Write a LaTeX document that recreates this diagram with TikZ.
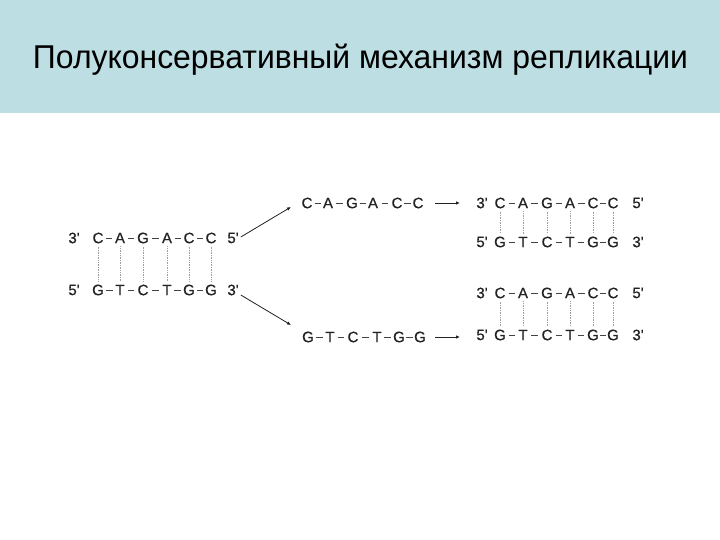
\documentclass[tikz,border=0pt]{standalone}
\usepackage{fontspec}
\setmainfont{Liberation Sans}
\newfontfamily\basefont[FakeBold=0.6]{Liberation Sans}
\usetikzlibrary{arrows.meta,calc}
\definecolor{band}{HTML}{BDDFE4}
\definecolor{ink}{HTML}{222222}
\tikzset{
  base/.style={font=\basefont\fontsize{15}{16}\selectfont, text=ink, inner sep=0pt},
  bond/.style={draw=ink!85, line width=0.9pt},
  hbond/.style={draw=gray!75, line width=0.7pt, densely dotted},
  splitarrow/.style={draw=ink, line width=0.8pt, -{Latex[length=4pt,width=3.5pt]}},
  fwdarrow/.style={draw=ink, line width=0.8pt, -{Latex[length=4pt,width=3.5pt]}},
}
% \strandrow{name}{y}{x/letter list}{xleft}{left label}{xright}{right label}
\newcommand{\strandrow}[7]{%
  \node[base] (#1e1) at (#4,#2) {#5};
  \node[base] (#1e2) at (#6,#2) {#7};
  \foreach \xx/\ll [count=\i] in {#3} {
    \node[base] (#1\i) at (\xx,#2) {\ll};
  }
  \foreach \i/\j in {1/2,2/3,3/4,4/5,5/6} {
    \draw[bond] ($($(#1\i.east)!0.5!(#1\j.west)$)+(-3.2,0)$) -- ($($(#1\i.east)!0.5!(#1\j.west)$)+(3.2,0)$);
  }
}
\newcommand{\hbonds}[2]{%
  \foreach \i in {1,...,6} {
    \draw[hbond] ($(#1\i.south)+(0,3)$) -- ($(#2\i.north)+(0,-3)$);
  }
}
\begin{document}
\begin{tikzpicture}[x=1pt,y=-1pt]
\useasboundingbox (0,0) rectangle (720,540);
\fill[white] (0,0) rectangle (720,540);
\fill[band] (0,0) rectangle (720,113);
\node[text=black, inner sep=0, anchor=base] (title) at (360.5,69)
  {\resizebox{655pt}{\height}{\fontsize{33}{36}\selectfont Полуконсервативный механизм репликации}};

% left duplex
\strandrow{LT}{238}{98/C,120/A,143/G,167/A,189/C,211/C}{74}{3'}{233}{5'}
\strandrow{LB}{290}{98/G,120/T,143/C,167/T,189/G,211/G}{74}{5'}{233}{3'}
\hbonds{LT}{LB}

% middle single strands
\strandrow{MT}{203}{307/C,328/A,352/G,373/A,397/C,418/C}{300}{}{425}{}
\strandrow{MB}{337}{308/G,330/T,353/C,377/T,399/G,420/G}{300}{}{425}{}
\coordinate (MTa) at (435,203);
\coordinate (MTb) at (460,203);
\coordinate (MBa) at (435,337);
\coordinate (MBb) at (460,337);
\draw[fwdarrow] (MTa) -- (MTb);
\draw[fwdarrow] (MBa) -- (MBb);

% split arrows
\coordinate (SAt) at (291,207);
\coordinate (SAb) at (291,325);
\draw[splitarrow] ($(LTe2.east)+(2,-1)$) -- (SAt);
\draw[splitarrow] ($(LBe2.east)+(2,5)$) -- (SAb);

% right top duplex
\strandrow{RA}{203}{500/C,523/A,547/G,570/A,593/C,613/C}{482}{3'}{638}{5'}
\strandrow{RB}{242}{500/G,523/T,547/C,570/T,593/G,613/G}{482}{5'}{638}{3'}
\hbonds{RA}{RB}

% right bottom duplex
\strandrow{RC}{293}{500/C,523/A,547/G,570/A,593/C,613/C}{482}{3'}{638}{5'}
\strandrow{RD}{335}{500/G,523/T,547/C,570/T,593/G,613/G}{482}{5'}{638}{3'}
\hbonds{RC}{RD}
\end{tikzpicture}
\end{document}
